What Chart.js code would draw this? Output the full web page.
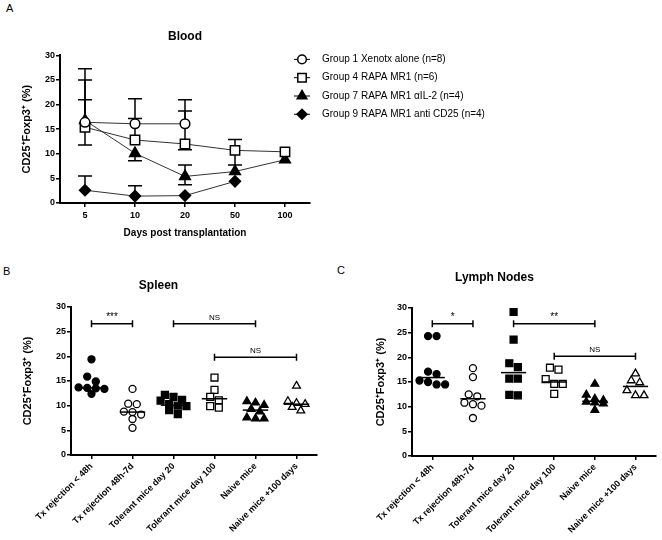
<!DOCTYPE html>
<html>
<head>
<meta charset="utf-8">
<script src="https://cdn.jsdelivr.net/npm/chart.js"></script>
<style>
body { margin: 0; width: 662px; height: 540px; background: #fff; position: relative; overflow: hidden; font-family: "Liberation Sans", Arial, sans-serif; }
.panel { position: absolute; }
.lbl { position: absolute; font-size: 11px; color: #000; line-height: 13px; }
</style>
</head>
<body>
<div class="lbl" style="left:6px;top:2px">A</div>
<div class="lbl" style="left:3px;top:265px">B</div>
<div class="lbl" style="left:337px;top:264px">C</div>
<div class="panel" style="left:0;top:0"><canvas id="blood" width="662" height="245"></canvas></div>
<div class="panel" style="left:0;top:255px"><canvas id="spleen" width="331" height="285"></canvas></div>
<div class="panel" style="left:331px;top:255px"><canvas id="lymph" width="331" height="285"></canvas></div>
<script>
// --- Blood (panel A) ---
const days = ['5', '10', '20', '50', '100'];
const groupNames = ['Group 1 Xenotx alone (n=8)', 'Group 4 RAPA MR1 (n=6)', 'Group 7 RAPA MR1 \u03b1IL-2 (n=4)', 'Group 9 RAPA MR1 anti CD25 (n=4)'];
const g1 = [16.4, 16.1, 16.1, null, null];
const g4 = [15.4, 12.8, 12.0, 10.7, 10.4];
const g7 = [16.8, 10.1, 5.4, 6.4, 8.8];
const g9 = [2.6, 1.4, 1.5, 4.4, null];
// error bar ends (null = not drawn)
const g1Hi = [27.3, 21.2, 21.0, null, null];
const g1Lo = [null, null, null, null, null];
const g4Hi = [21.0, 17.2, 18.7, 12.9, null];
const g4Lo = [11.8, null, 10.8, 7.7, null];
const g7Hi = [25.0, null, 7.7, null, null];
const g7Lo = [null, 8.6, 3.7, null, null];
const g9Hi = [5.5, 3.5, null, null, null];
const g9Lo = [null, null, null, null, null];

// --- Spleen / Lymph nodes (panels B, C) ---
const groups = ['Tx rejection < 48h', 'Tx rejection 48h-7d', 'Tolerant mice day 20', 'Tolerant mice day 100', 'Naive mice', 'Naive mice +100 days'];
const spleenRej48 = [19.4, 15.9, 14.9, 13.7, 13.6, 13.5, 13.4, 12.4];
const spleenRej7d = [13.4, 10.4, 10.3, 8.8, 8.7, 8.2, 7.3, 5.5];
const spleenTol20 = [12.2, 11.8, 11.2, 11.0, 10.3, 10.0, 9.9, 9.1, 8.3];
const spleenTol100 = [15.7, 13.2, 11.8, 11.1, 9.9, 9.6];
const spleenNaive = [10.9, 10.6, 10.1, 9.3, 8.8, 7.6, 7.4, 7.4];
const spleenNaive100 = [14.0, 10.9, 10.5, 10.3, 9.7, 9.0];
const spleenMedian = [13.6, 8.7, 10.1, 11.4, 9.1, 10.3];
const spleenSig = [[0, 1, 26.6, '***'], [2, 4, 26.6, 'NS'], [3, 5, 19.8, 'NS']];

const lnRej48 = [24.3, 24.3, 17.1, 16.6, 15.3, 15.0, 14.5, 14.5];
const lnRej7d = [17.8, 16.0, 12.5, 12.1, 10.8, 10.5, 10.2, 7.7];
const lnTol20 = [29.2, 23.6, 18.8, 18.0, 15.7, 15.7, 12.4, 12.3];
const lnTol100 = [17.9, 17.5, 15.6, 14.6, 14.6, 12.6];
const lnNaive = [14.6, 12.4, 11.6, 11.3, 11.0, 10.8, 10.6, 9.3];
const lnNaive100 = [16.7, 15.3, 14.9, 13.3, 12.3, 12.3];
const lnMedian = [15.9, 11.6, 16.9, 15.0, 11.1, 14.1];
const lnSig = [[0, 1, 26.8, '*'], [2, 4, 26.8, '**'], [3, 5, 20.2, 'NS']];

const FONT = '"Liberation Sans", Arial, sans-serif';
const yTitle = 'CD25\u207AFoxp3\u207A (%)';

function drawMarker(ctx, style, x, y, r, fill) {
    ctx.beginPath();
    if (style === 'circle') {
        ctx.arc(x, y, r, 0, Math.PI * 2);
    } else if (style === 'rect') {
        const s = r * Math.SQRT1_2;
        ctx.rect(x - s, y - s, 2 * s, 2 * s);
    } else if (style === 'triangle') {
        for (let k = 0; k < 3; k++) {
            const a = k * 2 * Math.PI / 3;
            const px = x + Math.sin(a) * r, py = y - Math.cos(a) * r;
            if (k === 0) ctx.moveTo(px, py); else ctx.lineTo(px, py);
        }
    } else {
        ctx.moveTo(x - r, y); ctx.lineTo(x, y - r); ctx.lineTo(x + r, y); ctx.lineTo(x, y + r);
    }
    ctx.closePath();
    ctx.fillStyle = fill;
    ctx.fill();
    ctx.lineWidth = 1.5;
    ctx.strokeStyle = '#000';
    ctx.stroke();
}

// error bars + legend for the blood chart
const bloodExtras = {
    id: 'bloodExtras',
    beforeDatasetsDraw(chart) {
        const ctx = chart.ctx;
        const y = chart.scales.y;
        ctx.save();
        ctx.strokeStyle = '#000';
        ctx.lineWidth = 1.5;
        chart.data.datasets.forEach((ds, i) => {
            const meta = chart.getDatasetMeta(i);
            ds.data.forEach((v, j) => {
                if (v === null) return;
                const px = meta.data[j].x, py = y.getPixelForValue(v);
                [ds.errHi[j], ds.errLo[j]].forEach(e => {
                    if (e === null) return;
                    const ey = y.getPixelForValue(e);
                    ctx.beginPath();
                    ctx.moveTo(px, py); ctx.lineTo(px, ey);
                    ctx.moveTo(px - 7, ey); ctx.lineTo(px + 7, ey);
                    ctx.stroke();
                });
            });
        });
        ctx.restore();
    },
    afterDraw(chart) {
        const ctx = chart.ctx;
        const area = chart.chartArea;
        ctx.save();
        chart.data.datasets.forEach((ds, i) => {
            const cx = area.right - 8, cy = area.top + 4 + i * 18.3;
            ctx.strokeStyle = '#000';
            ctx.lineWidth = 1;
            ctx.beginPath(); ctx.moveTo(cx - 8, cy); ctx.lineTo(cx + 8, cy); ctx.stroke();
            drawMarker(ctx, ds.pointStyle, cx, cy, ds.legendRadius, ds.pointBackgroundColor);
            ctx.fillStyle = '#000';
            ctx.font = '10px ' + FONT;
            ctx.textBaseline = 'middle';
            ctx.textAlign = 'left';
            ctx.fillText(ds.label, cx + 20, cy);
        });
        ctx.restore();
    }
};

function lineSet(label, data, hi, lo, style, fill, radius) {
    return {
        label, data, errHi: hi, errLo: lo,
        borderColor: '#333', borderWidth: 1,
        pointStyle: style, pointRadius: radius, legendRadius: radius * 0.9,
        pointBackgroundColor: fill, pointBorderColor: '#000', pointBorderWidth: 1.5,
        pointHoverRadius: radius
    };
}

const axisGrid = { display: true, drawOnChartArea: false, drawTicks: true, tickLength: 4, color: '#000', lineWidth: 1.5 };
const axisBorder = { display: true, color: '#000', width: 2 };
const tickFont = { family: FONT, size: 9, weight: 'bold' };

new Chart(document.getElementById('blood'), {
    type: 'line',
    data: {
        labels: days,
        datasets: [
            lineSet(groupNames[0], g1, g1Hi, g1Lo, 'circle', '#fff', 4.8),
            lineSet(groupNames[1], g4, g4Hi, g4Lo, 'rect', '#fff', 6.6),
            lineSet(groupNames[2], g7, g7Hi, g7Lo, 'triangle', '#000', 6.2),
            lineSet(groupNames[3], g9, g9Hi, g9Lo, 'rectRot', '#000', 5.5)
        ]
    },
    options: {
        responsive: false,
        animation: false,
        layout: { padding: { left: 0, right: 352, top: 0, bottom: 0 } },
        plugins: {
            legend: { display: false },
            tooltip: { enabled: false },
            title: {
                display: true, text: 'Blood', fullSize: false, color: '#000',
                font: { family: FONT, size: 12, weight: 'bold' },
                padding: { top: 29, bottom: 12 }
            }
        },
        scales: {
            x: {
                offset: true,
                grid: axisGrid, border: axisBorder,
                ticks: { color: '#000', font: tickFont, padding: 3 },
                title: { display: true, text: 'Days post transplantation', color: '#000', font: { family: FONT, size: 10, weight: 'bold' }, padding: { top: 0, bottom: 6 } },
                afterFit: s => { s.height = 42; }
            },
            y: {
                min: 0, max: 30,
                grid: axisGrid, border: axisBorder,
                ticks: { stepSize: 5, color: '#000', font: tickFont, padding: 1 },
                title: { display: true, text: yTitle, color: '#000', font: { family: FONT, size: 11, weight: 'bold' }, padding: { top: 20, bottom: 0 } },
                afterFit: s => { s.width = 60; }
            }
        }
    },
    plugins: [bloodExtras]
});

// spread points of one group side by side when their values are close
function swarm(values, idx) {
    const rows = [];
    values.slice().sort((a, b) => b - a).forEach(v => {
        const row = rows[rows.length - 1];
        if (row && row[0] - v < 1.15) row.push(v); else rows.push([v]);
    });
    const pts = [];
    rows.forEach(row => row.forEach((v, k) => pts.push({ x: idx + (k - (row.length - 1) / 2) * 0.21, y: v })));
    return pts;
}

const dotStyles = [
    ['circle', '#000', 3.5], ['circle', '#fff', 3.5], ['rect', '#000', 4.9], ['rect', '#fff', 4.9], ['triangle', '#000', 4.5], ['triangle', '#fff', 4.5]
];

function decor(medians, sig) {
    return {
        id: 'decor',
        afterDatasetsDraw(chart) {
            const ctx = chart.ctx, x = chart.scales.x, y = chart.scales.y;
            ctx.save();
            ctx.strokeStyle = '#000';
            ctx.fillStyle = '#000';
            ctx.lineWidth = 1.5;
            medians.forEach((m, i) => {
                const py = y.getPixelForValue(m);
                ctx.beginPath();
                ctx.moveTo(x.getPixelForValue(i - 0.31), py);
                ctx.lineTo(x.getPixelForValue(i + 0.31), py);
                ctx.stroke();
            });
            sig.forEach(([a, b, level, txt]) => {
                const x1 = x.getPixelForValue(a), x2 = x.getPixelForValue(b), py = y.getPixelForValue(level);
                ctx.beginPath();
                ctx.moveTo(x1, py); ctx.lineTo(x2, py);
                ctx.moveTo(x1, py - 3.5); ctx.lineTo(x1, py + 3.5);
                ctx.moveTo(x2, py - 3.5); ctx.lineTo(x2, py + 3.5);
                ctx.stroke();
                ctx.font = (txt === 'NS' ? '8px ' : '10px ') + FONT;
                ctx.textAlign = 'center';
                ctx.textBaseline = 'alphabetic';
                ctx.fillText(txt, (x1 + x2) / 2, py - 4);
            });
            ctx.restore();
        }
    };
}

function dotChart(id, title, series, medians, sig, opt) {
    new Chart(document.getElementById(id), {
        type: 'scatter',
        data: {
            datasets: series.map((vals, i) => ({
                label: groups[i],
                data: swarm(vals, i),
                pointStyle: dotStyles[i][0],
                pointBackgroundColor: dotStyles[i][1],
                pointRadius: dotStyles[i][2],
                pointHoverRadius: dotStyles[i][2],
                pointBorderColor: '#000',
                pointBorderWidth: 1.3
            }))
        },
        options: {
            responsive: false,
            animation: false,
            layout: { padding: { left: 0, right: opt.right, top: 0, bottom: 0 } },
            plugins: {
                legend: { display: false },
                tooltip: { enabled: false },
                title: {
                    display: true, text: title, color: '#000',
                    font: { family: FONT, size: 12, weight: 'bold' },
                    padding: opt.titlePad
                }
            },
            scales: {
                x: {
                    type: 'linear', min: -0.5, max: 5.5,
                    grid: axisGrid, border: axisBorder,
                    afterBuildTicks: s => { s.ticks = groups.map((g, i) => ({ value: i })); },
                    ticks: { autoSkip: false, minRotation: 45, maxRotation: 45, color: '#000', font: tickFont, padding: 2, callback: v => groups[v] },
                    afterFit: s => { s.height = opt.xHeight; }
                },
                y: {
                    min: 0, max: 30,
                    grid: axisGrid, border: axisBorder,
                    ticks: { stepSize: 5, color: '#000', font: tickFont, padding: 1 },
                    title: { display: true, text: yTitle, color: '#000', font: { family: FONT, size: 11, weight: 'bold' }, padding: { top: opt.yTitlePad, bottom: 0 } },
                    afterFit: s => { s.width = opt.yWidth; }
                }
            }
        },
        plugins: [decor(medians, sig)]
    });
}

dotChart('spleen', 'Spleen',
    [spleenRej48, spleenRej7d, spleenTol20, spleenTol100, spleenNaive, spleenNaive100],
    spleenMedian, spleenSig,
    { right: 14, yWidth: 71, xHeight: 85, yTitlePad: 21, titlePad: { top: 23, bottom: 14.6 } });

dotChart('lymph', 'Lymph Nodes',
    [lnRej48, lnRej7d, lnTol20, lnTol100, lnNaive, lnNaive100],
    lnMedian, lnSig,
    { right: 4, yWidth: 81, xHeight: 84, yTitlePad: 43, titlePad: { top: 15, bottom: 23.6 } });
</script>
</body>
</html>
